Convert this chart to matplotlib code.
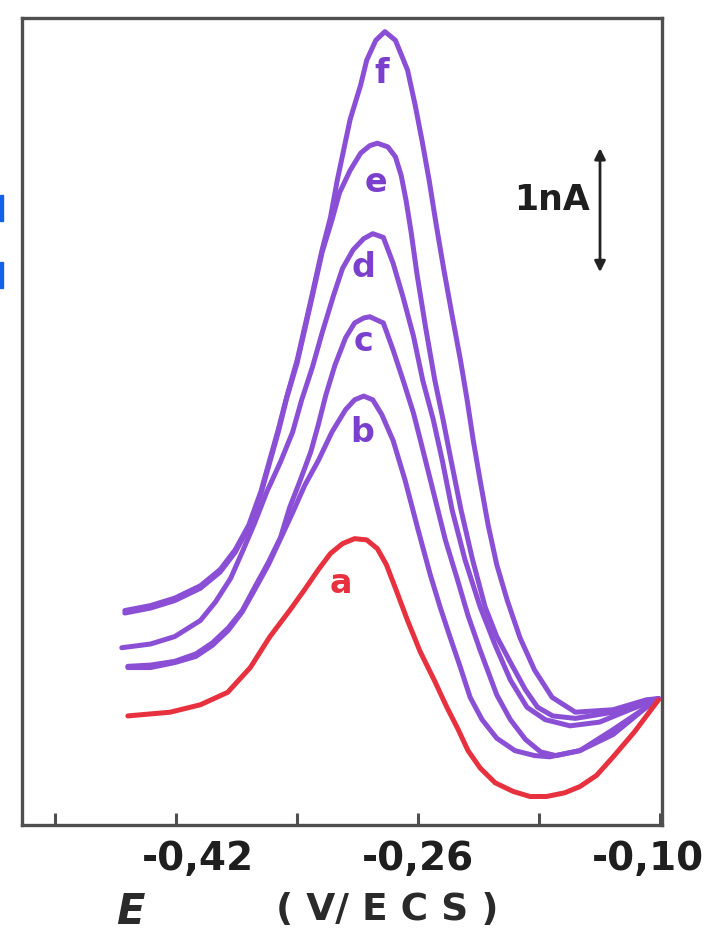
import matplotlib
matplotlib.use("Agg")
import matplotlib.pyplot as plt
from matplotlib.transforms import ScaledTranslation
from matplotlib.patches import Rectangle

# ---- data (E in V vs ECS, I in nA) ----
E_a = [-0.452, -0.424, -0.404, -0.386, -0.371, -0.358, -0.345, -0.335, -0.326, -0.318,
       -0.310, -0.302, -0.294, -0.287, -0.281, -0.275, -0.267, -0.2587, -0.249, -0.241,
       -0.2335, -0.227, -0.219, -0.209, -0.197, -0.186, -0.175, -0.163, -0.153, -0.142,
       -0.131, -0.117, -0.101]
I_a = [0.88, 0.91, 0.97, 1.07, 1.27, 1.52, 1.73, 1.90, 2.06, 2.19,
       2.27, 2.31, 2.30, 2.23, 2.10, 1.91, 1.65, 1.40, 1.16, 0.95,
       0.77, 0.60, 0.46, 0.34, 0.27, 0.23, 0.23, 0.26, 0.31, 0.40,
       0.55, 0.75, 1.01]

E_b = [-0.452, -0.437, -0.421, -0.407, -0.396, -0.3856, -0.3763, -0.368, -0.359, -0.351,
       -0.343, -0.335, -0.326, -0.317, -0.308, -0.302, -0.296,
       -0.290, -0.284, -0.2765, -0.2686, -0.260, -0.252, -0.2455, -0.239, -0.232, -0.2256,
       -0.2177, -0.208, -0.196, -0.183, -0.173, -0.153, -0.131, -0.109, -0.101]
I_b = [1.27, 1.27, 1.31, 1.36, 1.45, 1.57, 1.72, 1.90, 2.10, 2.31,
       2.52, 2.74, 2.94, 3.17, 3.35, 3.43, 3.46,
       3.43, 3.31, 3.10, 2.78, 2.38, 2.02, 1.76, 1.52, 1.27, 1.03,
       0.85, 0.70, 0.60, 0.56, 0.55, 0.60, 0.77, 0.95, 1.02]

E_c = [-0.452, -0.437, -0.421, -0.407, -0.396, -0.3856, -0.3763, -0.368, -0.359, -0.351,
       -0.345, -0.338, -0.331, -0.326, -0.321, -0.315, -0.308, -0.302, -0.296, -0.292,
       -0.283, -0.2765, -0.270, -0.263, -0.258, -0.251, -0.242, -0.234, -0.227, -0.219,
       -0.208, -0.199, -0.189, -0.179, -0.169, -0.153, -0.131, -0.109, -0.101]
I_c = [1.28, 1.29, 1.32, 1.38, 1.47, 1.59, 1.73, 1.92, 2.12, 2.32,
       2.56, 2.78, 3.01, 3.23, 3.47, 3.71, 3.93, 4.05, 4.09, 4.10,
       4.05, 3.83, 3.59, 3.32, 3.08, 2.74, 2.30, 1.98, 1.69, 1.41,
       1.05, 0.85, 0.69, 0.59, 0.56, 0.60, 0.73, 0.95, 1.02]

E_d = [-0.456, -0.437, -0.421, -0.404, -0.394, -0.384, -0.3757, -0.368, -0.360, -0.351,
       -0.343, -0.337, -0.330, -0.3235, -0.316, -0.310, -0.303, -0.296, -0.290,
       -0.283, -0.2765, -0.270, -0.263, -0.257, -0.250, -0.244, -0.2375, -0.229, -0.219,
       -0.209, -0.199, -0.188, -0.176, -0.1595, -0.140, -0.120, -0.101]
I_d = [1.43, 1.46, 1.52, 1.65, 1.80, 1.99, 2.22, 2.44, 2.69, 2.93,
       3.17, 3.43, 3.69, 3.97, 4.27, 4.49, 4.64, 4.73, 4.77,
       4.74, 4.53, 4.26, 3.94, 3.59, 3.27, 2.94, 2.54, 2.14, 1.76,
       1.45, 1.17, 0.95, 0.85, 0.80, 0.83, 0.93, 1.02]

E_e = [-0.454, -0.437, -0.421, -0.404, -0.391, -0.381, -0.372, -0.364, -0.3585, -0.3525,
       -0.347, -0.340, -0.331, -0.3235, -0.317, -0.312, -0.305, -0.298, -0.292, -0.287,
       -0.280, -0.275, -0.2712, -0.268, -0.2646, -0.2607, -0.255, -0.249, -0.2435, -0.2382,
       -0.2316, -0.224, -0.2157, -0.208, -0.198, -0.189, -0.181, -0.171, -0.156, -0.131,
       -0.109, -0.101]
I_e = [1.71, 1.75, 1.81, 1.91, 2.04, 2.20, 2.40, 2.67, 2.91, 3.17,
       3.44, 3.73, 4.21, 4.62, 4.88, 5.10, 5.28, 5.42, 5.48, 5.50,
       5.47, 5.39, 5.24, 5.04, 4.78, 4.44, 4.01, 3.59, 3.27, 2.94,
       2.54, 2.14, 1.76, 1.52, 1.29, 1.09, 0.95, 0.88, 0.86, 0.91,
       1.00, 1.02]

E_f = [-0.454, -0.437, -0.421, -0.404, -0.391, -0.381, -0.372, -0.364, -0.3585, -0.3525,
       -0.347, -0.340, -0.331, -0.3235, -0.318, -0.3135, -0.305, -0.298, -0.294, -0.288,
       -0.282, -0.275, -0.267, -0.262, -0.2574, -0.2527, -0.248, -0.243, -0.2375, -0.232,
       -0.2276, -0.2235, -0.219, -0.2137, -0.208, -0.201, -0.1926, -0.183, -0.1714, -0.156,
       -0.131, -0.109, -0.101]
I_f = [1.73, 1.77, 1.83, 1.93, 2.06, 2.22, 2.42, 2.69, 2.93, 3.19,
       3.45, 3.75, 4.23, 4.64, 4.90, 5.20, 5.69, 5.97, 6.17, 6.33,
       6.40, 6.33, 6.09, 5.81, 5.52, 5.20, 4.84, 4.48, 4.11, 3.75,
       3.43, 3.10, 2.78, 2.42, 2.10, 1.81, 1.51, 1.25, 1.03, 0.91,
       0.93, 1.01, 1.02]

curve_names = ["a", "b", "c", "d", "e", "f"]
label_E = [-0.311, -0.297, -0.296, -0.296, -0.288, -0.284]
label_I = [1.95, 3.17, 3.90, 4.50, 5.18, 6.06]

minor_ticks = [-0.50, -0.34, -0.18]
major_ticks = [-0.42, -0.26, -0.10]
major_labels = ["-0,42", "-0,26", "-0,10"]
scale_bar_nA = 1.0
scale_bar_E = -0.1397
scale_bar_top = 5.46

RED = "#e8313f"
PURPLE = "#8b4fd6"
PURPLE_TXT = "#7a3fcc"
FRAME = "#4f4f4f"

fig = plt.figure(figsize=(7.22, 9.44), dpi=100)
ax = fig.add_axes([22 / 722, 1 - 825 / 944, 640 / 722, 807 / 944])

curves = [(E_a, I_a), (E_b, I_b), (E_c, I_c), (E_d, I_d), (E_e, I_e), (E_f, I_f)]
for i, (E, I) in enumerate(curves[::-1]):
    col = RED if i == 5 else PURPLE
    ax.plot(E, I, color=col, lw=3.6, solid_joinstyle="round", solid_capstyle="round",
            zorder=3)

for name, x, y in zip(curve_names, label_E, label_I):
    ax.text(x, y, name, color=RED if name == "a" else PURPLE_TXT, fontsize=24,
            fontweight="bold", ha="center", va="center", zorder=4)

ax.set_xlim(-0.522, -0.0987)
ax.set_ylim(0, 6.51)
ax.set_yticks([])
ax.set_xticks(major_ticks)
ax.set_xticklabels(major_labels)
ax.set_xticks(minor_ticks, minor=True)
ax.tick_params(axis="x", which="both", direction="in", length=9, width=2.2,
               color=FRAME, labelsize=28, pad=11)
for lab in ax.get_xticklabels():
    lab.set_fontweight("bold")
    lab.set_color("#1e1e1e")
offsets = [22, 0, -12]
for lab, dx in zip(ax.get_xticklabels(), offsets):
    lab.set_transform(lab.get_transform() + ScaledTranslation(dx / 100, 0, fig.dpi_scale_trans))

for sp in ax.spines.values():
    sp.set_color(FRAME)
    sp.set_linewidth(2.4)

# scale bar
ax.annotate("", xy=(scale_bar_E, scale_bar_top - scale_bar_nA), xytext=(scale_bar_E, scale_bar_top),
            arrowprops=dict(arrowstyle="<|-|>", color="#222222", lw=2.0, mutation_scale=16,
                            shrinkA=0, shrinkB=0))
ax.text(scale_bar_E - 0.0065, scale_bar_top - scale_bar_nA / 2 + 0.08, "1nA",
        fontsize=25, fontweight="bold", ha="right", va="center", color="#1e1e1e")

# axis label
fig.text(130 / 722, 1 - 912 / 944, "E", fontsize=30, ha="center", va="center",
         color="#2a2a2a", style="italic", fontweight="bold")
fig.text(387 / 722, 1 - 910 / 944, "( V/ E C S )", fontsize=27, ha="center", va="center",
         color="#2a2a2a", fontweight="bold")

# blue crop marks at the left edge of the scan
for ytop in (195, 262):
    fig.patches.append(Rectangle((0, 1 - (ytop + 26) / 944), 3 / 722, 26 / 944,
                                 transform=fig.transFigure, color="#1560e8", zorder=5))

fig.savefig("out.png", dpi=100)
